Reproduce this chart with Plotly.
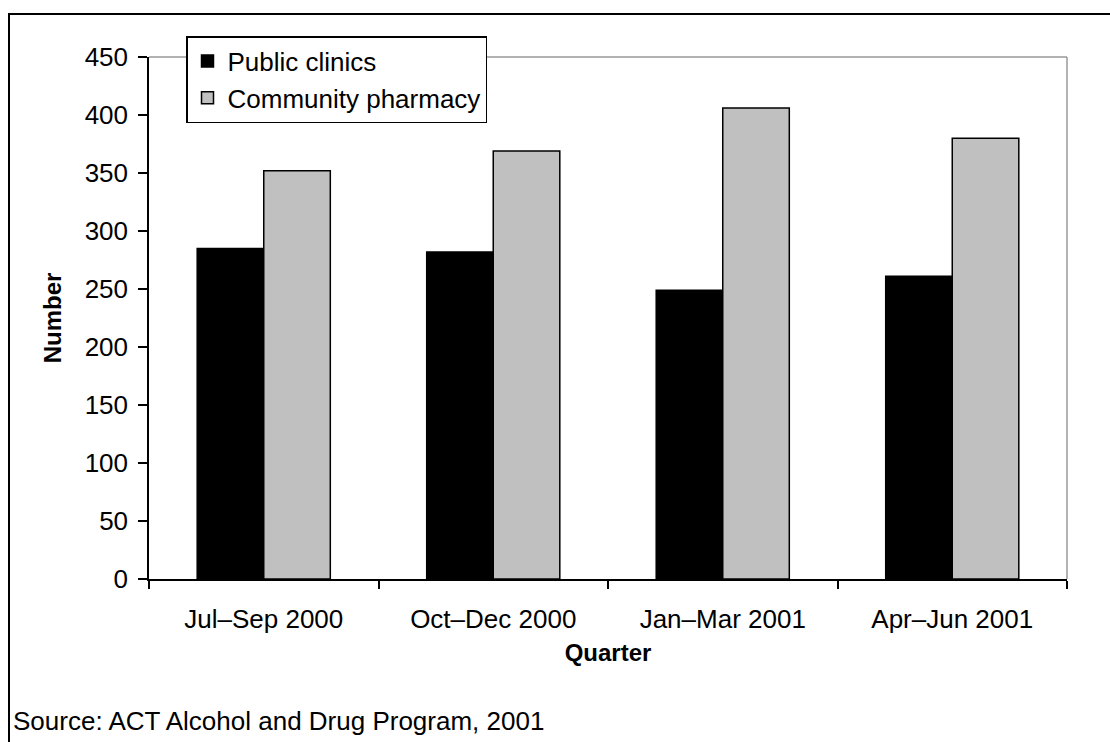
import plotly.graph_objects as go

# Quarterly counts by outlet type
quarters = ["Jul–Sep 2000", "Oct–Dec 2000", "Jan–Mar 2001", "Apr–Jun 2001"]
public_clinics = [285, 282, 249, 261]
community_pharmacy = [352, 369, 406, 380]
y_ticks = [0, 50, 100, 150, 200, 250, 300, 350, 400, 450]

W, H = 1110, 742
ML, MR, MT, MB = 149, 43, 57, 163
PW, PH = W - ML - MR, H - MT - MB

FONT = "Liberation Sans, Arial, sans-serif"
FS = 26


def px_x(x):
    return (x - ML) / PW


def px_y(y):
    return (H - MB - y) / PH


fig = go.Figure()
fig.add_trace(go.Bar(
    name="Public clinics", x=quarters, y=public_clinics,
    marker=dict(color="#000000", line=dict(color="#000000", width=1.5)),
))
fig.add_trace(go.Bar(
    name="Community pharmacy", x=quarters, y=community_pharmacy,
    marker=dict(color="#c0c0c0", line=dict(color="#000000", width=1.5)),
))

fig.update_layout(
    width=W, height=H,
    margin=dict(l=ML, r=MR, t=MT, b=MB, pad=0),
    paper_bgcolor="white", plot_bgcolor="white",
    barmode="group", bargap=0.42, bargroupgap=0,
    showlegend=True,
    font=dict(family=FONT, size=FS, color="#000000"),
    legend=dict(
        x=px_x(186), y=px_y(36), xanchor="left", yanchor="top",
        bgcolor="white", bordercolor="#000000", borderwidth=1.5,
        font=dict(family=FONT, size=FS, color="#000000"),
        tracegroupgap=0, itemwidth=30,
    ),
    xaxis=dict(
        showline=True, linecolor="#000000", linewidth=1.5,
        ticks="outside", tickson="boundaries", ticklen=8, tickwidth=1.5,
        tickcolor="#000000", showgrid=False, zeroline=False,
        tickfont=dict(family=FONT, size=FS), ticklabelstandoff=16,
        title=dict(text="<b>Quarter</b>", font=dict(family=FONT, size=FS - 2), standoff=11),
    ),
    yaxis=dict(
        range=[0, 450], tickvals=y_ticks,
        showline=True, linecolor="#000000", linewidth=1.5,
        ticks="outside", ticklen=9, tickwidth=1.5, tickcolor="#000000",
        showgrid=False, zeroline=False,
        tickfont=dict(family=FONT, size=FS), ticklabelstandoff=5,
        title=dict(text="<b>Number</b>", font=dict(family=FONT, size=FS - 2), standoff=16),
    ),
    shapes=[
        # gray top and right edges of the plot area
        dict(type="line", xref="paper", yref="paper", x0=0, x1=1, y0=1, y1=1,
             line=dict(color="#999999", width=1.5), layer="below"),
        dict(type="line", xref="paper", yref="paper", x0=1, x1=1, y0=0, y1=1,
             line=dict(color="#999999", width=1.5), layer="below"),
        # outer frame
        dict(type="rect", xref="paper", yref="paper",
             x0=px_x(9), x1=px_x(W + 20), y0=px_y(H + 20), y1=px_y(14),
             line=dict(color="#000000", width=2)),
    ],
    annotations=[
        dict(text="Source: ACT Alcohol and Drug Program, 2001",
             xref="paper", yref="paper", x=px_x(11), y=px_y(721),
             xanchor="left", yanchor="middle", showarrow=False,
             font=dict(family=FONT, size=FS, color="#000000")),
    ],
)

fig.write_html("out.html")
